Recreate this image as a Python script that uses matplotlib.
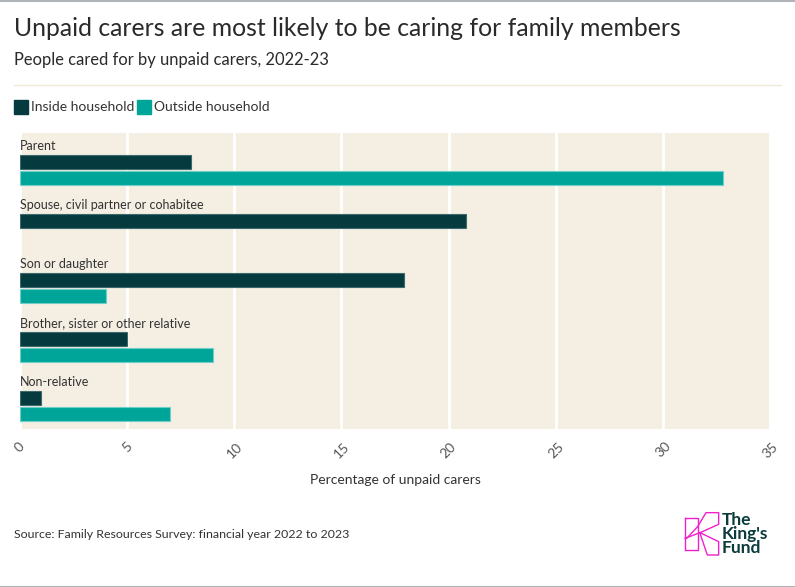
import numpy as np
import matplotlib.pyplot as plt
from matplotlib.lines import Line2D
from matplotlib.patches import Rectangle

categories = ['Parent', 'Spouse, civil partner or cohabitee', 'Son or daughter',
              'Brother, sister or other relative', 'Non-relative']
inside = [8.0, 20.8, 17.9, 5.0, 1.0]
outside = [32.8, 0.0, 4.0, 9.0, 7.0]
xticks = [0, 5, 10, 15, 20, 25, 30, 35]

DARK = '#053a3e'
TEAL = '#00a59a'
BG = '#f4eee3'
TXT = '#333333'

plt.rcParams['font.family'] = ['Lato', 'DejaVu Sans']

W, H = 795, 587
fig = plt.figure(figsize=(W / 100, H / 100), dpi=100)

def fx(px):
    return px / W

def fy(py):
    return 1 - py / H

# axes placed in pixel terms
ax = fig.add_axes([fx(20), fy(429), fx(770) - fx(20), fy(133) - fy(429)])
ax.set_facecolor(BG)

y = np.arange(len(categories))
bh = 0.235
off = 0.132
lw_in = [0.8 if v > 0 else 0 for v in inside]
lw_out = [0.8 if v > 0 else 0 for v in outside]
ax.barh(y - off, inside, height=bh, color=DARK, edgecolor='#3d6a6c', linewidth=lw_in, zorder=3)
ax.barh(y + off, outside, height=bh, color=TEAL, edgecolor='#6fcfc6', linewidth=lw_out, zorder=3)
for i, c in enumerate(categories):
    ax.text(0, y[i] - 0.41, c, va='center', ha='left', fontsize=9, color=TXT, zorder=4)

ax.set_xlim(0, 35)
ax.set_ylim(4.386, -0.63)
ax.set_xticks(xticks)
ax.set_xticklabels([str(t) for t in xticks], rotation=45, fontsize=10, color='#555555')
ax.tick_params(axis='x', length=0, pad=8)
ax.set_yticks([])
ax.grid(axis='x', color='white', linewidth=2, zorder=1)
for s in ax.spines.values():
    s.set_visible(False)
ax.set_xlabel('Percentage of unpaid carers', fontsize=10, color=TXT, labelpad=10)

# titles
fig.text(fx(14), fy(29), 'Unpaid carers are most likely to be caring for family members',
         fontsize=17.8, color='#2a2a2a', va='center')
fig.text(fx(14), fy(60), 'People cared for by unpaid carers, 2022-23',
         fontsize=11.9, color='#2a2a2a', va='center')
fig.add_artist(Line2D([fx(14), fx(781)], [fy(85), fy(85)], color='#efe9da', linewidth=1))

# legend
fig.add_artist(Rectangle((fx(14), fy(114)), fx(14), 14 / H, color=DARK))
fig.text(fx(31), fy(107), 'Inside household', fontsize=10, color=TXT, va='center')
fig.add_artist(Rectangle((fx(137), fy(114)), fx(14), 14 / H, color=TEAL))
fig.text(fx(154), fy(107), 'Outside household', fontsize=10, color=TXT, va='center')

# source
fig.text(fx(14), fy(535), 'Source: Family Resources Survey: financial year 2022 to 2023',
         fontsize=8.9, color=TXT, va='center')

# frame lines
fig.add_artist(Line2D([0, 1], [fy(0.5), fy(0.5)], color='#b0b4b8', linewidth=1.5))
fig.add_artist(Line2D([0, 1], [fy(586.5), fy(586.5)], color='#b0b4b8', linewidth=1.5))

# logo
PINK = '#f021c8'
lx, ly = 600, 490
def lp(pts):
    return [fx(lx + a / 3) for a, b in pts], [fy(ly + b / 3) for a, b in pts]
shapes = [
    [(255, 85), (293, 85), (293, 180), (255, 180), (255, 85)],
    [(293, 110), (318, 68), (356, 68), (356, 103), (300, 128), (356, 155), (356, 195), (322, 195), (300, 130)],
    [(255, 145), (300, 128)],
    [(260, 145), (293, 110)],
]
for s in shapes:
    xs, ys = lp(s)
    fig.add_artist(Line2D(xs, ys, color=PINK, linewidth=1))
fig.text(fx(722), fy(534), "The\nKing's\nFund", fontsize=12.5, fontweight='bold', color='#0b3b3d',
         va='center', ha='left', linespacing=0.88)

fig.savefig('out.png', dpi=100, facecolor='white')
